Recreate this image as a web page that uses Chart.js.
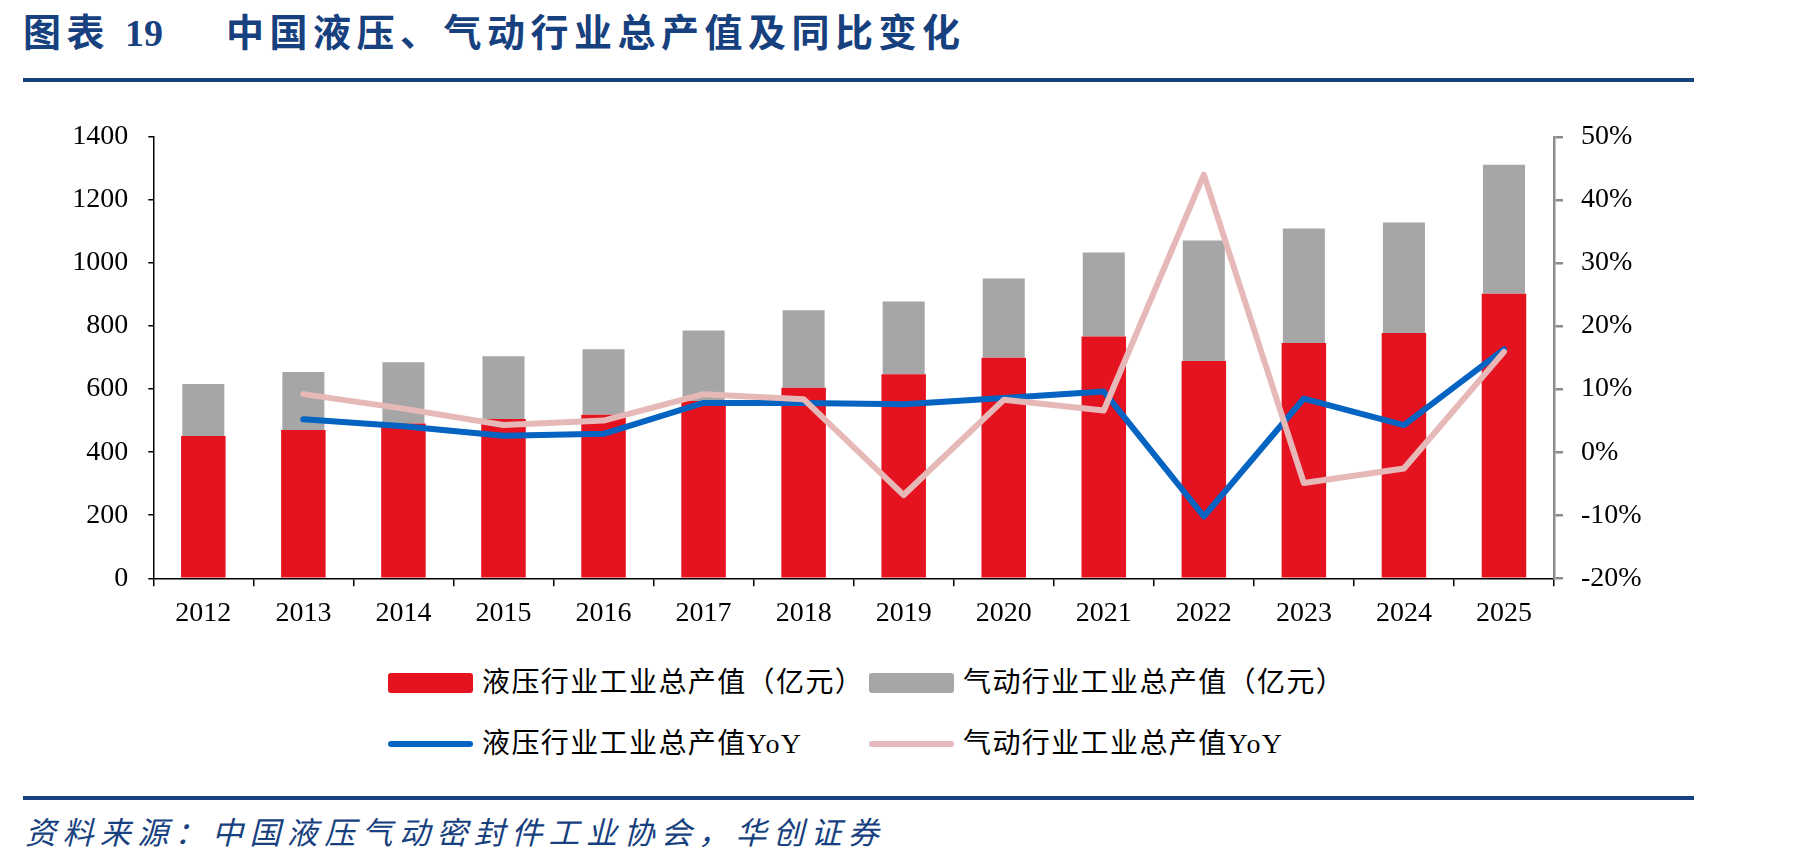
<!DOCTYPE html>
<html>
<head>
<meta charset="utf-8">
<script src="https://cdn.jsdelivr.net/npm/chart.js@4.4.1/dist/chart.umd.min.js"></script>
<style>
  body { margin: 0; background: #fff; width: 1801px; height: 867px; overflow: hidden; position: relative; }
  .title { position: absolute; top: 2px; font: bold 38px "Liberation Serif", "Noto Sans CJK SC"; color: #17407e; letter-spacing: 5.5px; white-space: nowrap; }
  .title b { letter-spacing: 0; }
  .rule { position: absolute; left: 23px; width: 1671px; height: 4px; background: #17407e; }
  .source { position: absolute; left: 25px; top: 808px; font: italic 31px "Liberation Serif", "Noto Sans CJK SC"; color: #17407e; letter-spacing: 6.4px; white-space: nowrap; }
  #wrap { position: absolute; left: 0; top: 100px; width: 1801px; height: 550px; }
  .lg { position: absolute; font: 28px "Liberation Serif", "Noto Sans CJK SC"; color: #000; white-space: nowrap; line-height: 28px; letter-spacing: 1.4px; }
  .lg i { position: absolute; left: 0; width: 85px; border-radius: 3px; }
  .lg span { position: absolute; left: 94px; top: -14px; }
</style>
</head>
<body>
<div class="title" style="left:23px">图表 <b>19</b></div>
<div class="title" style="left:226px">中国液压、气动行业总产值及同比变化</div>
<div class="rule" style="top:78px"></div>
<div id="wrap"><canvas id="combo"></canvas></div>
<div id="legend"></div>
<div class="rule" style="top:796px"></div>
<div class="source">资料来源：中国液压气动密封件工业协会，华创证券</div>
<script>
const years = ['2012', '2013', '2014', '2015', '2016', '2017', '2018', '2019', '2020', '2021', '2022', '2023', '2024', '2025'];
const hydraulicOutput = [451, 470, 491, 505, 519, 562, 604, 647, 699, 767, 689, 746, 778, 902];
const pneumaticOutput = [165, 184, 194, 199, 207, 224, 246, 231, 252, 266, 382, 363, 350, 409];
const hydraulicYoY = [null, 5.2, 4.1, 2.6, 2.9, 7.8, 7.8, 7.6, 8.6, 9.6, -10.2, 8.5, 4.3, 16.3];
const pneumaticYoY = [null, 9.2, 6.9, 4.3, 5.0, 9.2, 8.4, -6.8, 8.3, 6.6, 44.0, -4.9, -2.6, 15.9];

const red = '#e5131f', grey = '#a6a6a6', blue = '#0563c1', pink = '#e6b9b8';
const tickFont = { family: 'Liberation Serif', size: 28 };

// order: red bars stack first (bottom), lines drawn on top
const datasets = [
  { type: 'bar', label: '液压行业工业总产值（亿元）', data: hydraulicOutput, backgroundColor: red,
    yAxisID: 'y', stack: 's', barPercentage: 0.445, categoryPercentage: 1, order: 2 },
  { type: 'bar', label: '气动行业工业总产值（亿元）', data: pneumaticOutput, backgroundColor: grey,
    yAxisID: 'y', stack: 's', barPercentage: 0.42, categoryPercentage: 1, order: 3 },
  { type: 'line', label: '液压行业工业总产值YoY', data: hydraulicYoY, borderColor: blue, backgroundColor: blue,
    yAxisID: 'y1', borderWidth: 6, pointRadius: 0, borderCapStyle: 'round', borderJoinStyle: 'round', order: 1 },
  { type: 'line', label: '气动行业工业总产值YoY', data: pneumaticYoY, borderColor: pink, backgroundColor: pink,
    yAxisID: 'y1', borderWidth: 6, pointRadius: 0, borderCapStyle: 'round', borderJoinStyle: 'round', order: 0 }
];

const ctx = document.getElementById('combo').getContext('2d');
const chart = new Chart(ctx, {
  data: { labels: years, datasets: datasets },
  options: {
    responsive: true,
    maintainAspectRatio: false,
    animation: false,
    layout: { padding: { top: 36, left: 0, right: 0, bottom: 0 } },
    plugins: { legend: { display: false }, tooltip: { enabled: false } },
    scales: {
      x: {
        stacked: true,
        grid: { drawOnChartArea: false, drawTicks: true, tickLength: 8, color: '#000', lineWidth: 1.5 },
        border: { color: '#000', width: 1.5 },
        ticks: { font: tickFont, color: '#000', padding: 11, maxRotation: 0 },
        afterFit: s => { s.height = 71.7; }
      },
      y: {
        stacked: true, min: 0, max: 1400,
        grid: { drawOnChartArea: false, drawTicks: true, tickLength: 5, color: '#000', lineWidth: 1.5 },
        border: { color: '#000', width: 1.5 },
        ticks: { stepSize: 200, font: tickFont, color: '#000', padding: 20, callback: v => String(v) },
        afterFit: s => { s.width = 153.3; }
      },
      y1: {
        position: 'right', min: -20, max: 50,
        grid: { drawOnChartArea: false, drawTicks: true, tickLength: 9, color: '#8c8c8c', lineWidth: 2.5 },
        border: { color: '#8c8c8c', width: 2.5 },
        ticks: { stepSize: 10, font: tickFont, color: '#000', padding: 18, callback: v => v + '%' },
        afterFit: s => { s.width = 247; }
      }
    }
  }
});

// legend built from the datasets, two per row
const legendPos = [[388, 683], [869, 683], [388, 743.5], [869, 743.5]];
const legend = document.getElementById('legend');
chart.data.datasets.forEach((ds, i) => {
  const item = document.createElement('div');
  item.className = 'lg';
  item.style.left = legendPos[i][0] + 'px';
  item.style.top = legendPos[i][1] + 'px';
  const sw = document.createElement('i');
  const h = ds.type === 'bar' ? 20 : 6;
  sw.style.height = h + 'px';
  sw.style.top = (-h / 2) + 'px';
  sw.style.background = ds.backgroundColor;
  const txt = document.createElement('span');
  txt.textContent = ds.label;
  item.appendChild(sw);
  item.appendChild(txt);
  legend.appendChild(item);
});
</script>
</body>
</html>
